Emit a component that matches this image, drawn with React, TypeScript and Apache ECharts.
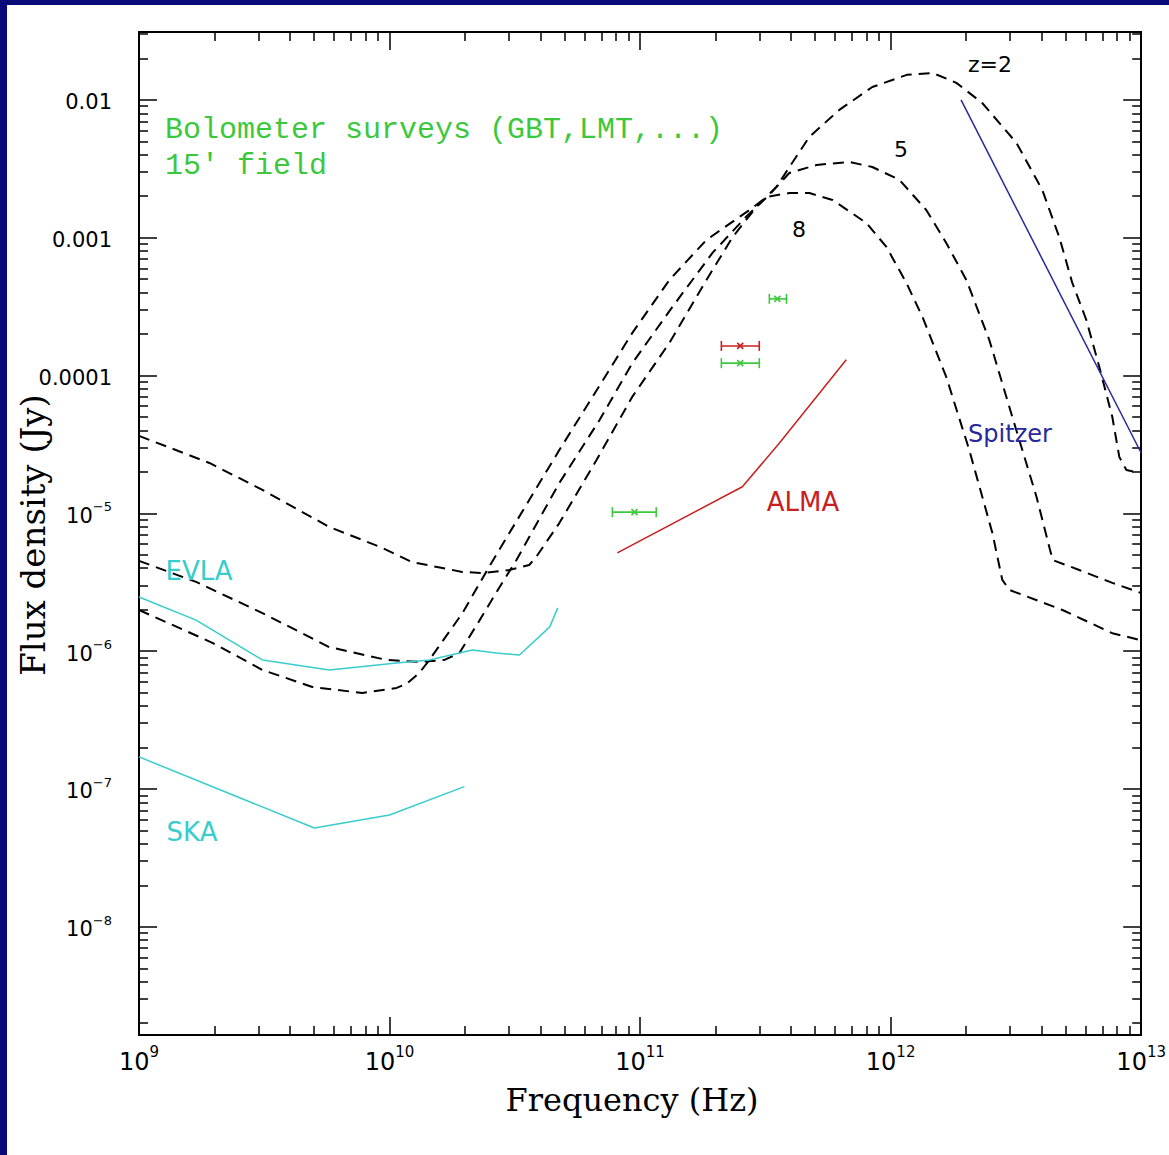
import React, { useEffect, useRef } from "react";
import * as echarts from "echarts";

// ---------- axis ranges ----------
const FREQ_MIN = 1e9;
const FREQ_MAX = 1e13;
const FLUX_MIN = 1.64e-9;
const FLUX_MAX = 0.0311;

// ---------- tick labels ----------
const xMajorExponents = [9, 10, 11, 12, 13];
const yMajorExponents = [-8, -7, -6, -5, -4, -3, -2];
const yDecimalLabels: Record<string, string> = { "-2": "0.01", "-3": "0.001", "-4": "0.0001" };

// ---------- model SEDs (frequency Hz, flux density Jy) ----------
const sedZ2: [number, number][] = [
  [1.0e9, 3.65e-5], [1.91e9, 2.32e-5], [3.11e9, 1.48e-5], [5.75e9, 7.96e-6], [9.38e9, 5.61e-6],
  [1.23e10, 4.43e-6], [1.95e10, 3.76e-6], [2.35e10, 3.69e-6], [3.0e10, 3.88e-6], [3.61e10, 4.22e-6],
  [3.85e10, 4.83e-6], [4.76e10, 8.5e-6], [6.7e10, 2.44e-5], [9.3e10, 7.0e-5], [1.31e11, 1.73e-4],
  [1.84e11, 4.94e-4], [2.34e11, 1.01e-3], [2.92e11, 1.68e-3], [3.5e11, 2.34e-3], [4.74e11, 5.4e-3],
  [6.24e11, 8.46e-3], [8.45e11, 1.24e-2], [1.16e12, 1.52e-2], [1.47e12, 1.57e-2], [1.83e12, 1.33e-2],
  [2.32e12, 9.5e-3], [3.18e12, 4.87e-3], [4.03e12, 2.22e-3], [4.71e12, 1.01e-3], [5.31e12, 4.7e-4],
  [6.04e12, 2.53e-4], [6.81e12, 1.15e-4], [7.67e12, 5.0e-5], [8.18e12, 2.56e-5], [8.73e12, 2.06e-5],
  [1.0e13, 1.96e-5],
];
const sedZ5: [number, number][] = [
  [1.0e9, 4.52e-6], [1.69e9, 3.18e-6], [3.11e9, 1.89e-6], [5.75e9, 1.07e-6], [9.73e9, 8.64e-7],
  [1.315e10, 8.35e-7], [1.656e10, 8.64e-7], [1.9e10, 9.7e-7], [2.29e10, 1.68e-6], [2.75e10, 2.92e-6],
  [3.21e10, 4.59e-6], [4.76e10, 1.66e-5], [6.89e10, 4.76e-5], [9.31e10, 1.23e-4], [1.346e11, 3.15e-4],
  [1.945e11, 7.76e-4], [2.65e11, 1.42e-3], [3.28e11, 2.05e-3], [3.94e11, 2.95e-3], [5.06e11, 3.37e-3],
  [6.84e11, 3.55e-3], [8.45e11, 3.26e-3], [1.084e12, 2.63e-3], [1.387e12, 1.59e-3], [1.667e12, 9.17e-4],
  [2.005e12, 4.94e-4], [2.477e12, 1.81e-4], [3.06e12, 5.0e-5], [3.82e12, 1.32e-5], [4.43e12, 4.59e-6],
  [5.66e12, 3.88e-6], [7.67e12, 3.13e-6], [1.0e13, 2.64e-6],
];
const sedZ8: [number, number][] = [
  [1.0e9, 1.99e-6], [1.963e9, 1.15e-6], [3.11e9, 7.31e-7], [4.92e9, 5.5e-7], [7.8e9, 4.97e-7],
  [1.067e10, 5.41e-7], [1.167e10, 5.78e-7], [1.315e10, 6.95e-7], [1.442e10, 8.64e-7], [1.954e10, 1.89e-6],
  [2.55e10, 4.37e-6], [3.61e10, 1.25e-5], [4.76e10, 2.88e-5], [6.46e10, 7.0e-5], [9.31e10, 2.04e-4],
  [1.309e11, 4.94e-4], [1.84e11, 9.64e-4], [2.735e11, 1.59e-3], [3.2e11, 1.98e-3], [3.945e11, 2.11e-3],
  [4.74e11, 2.11e-3], [5.86e11, 1.88e-3], [8.0e11, 1.28e-3], [9.62e11, 8.57e-4], [1.156e12, 4.7e-4],
  [1.34e12, 2.66e-4], [1.667e12, 9.77e-5], [2.06e12, 2.88e-5], [2.547e12, 7.2e-6], [2.79e12, 3.29e-6],
  [2.98e12, 2.78e-6], [4.85e12, 1.99e-6], [7.67e12, 1.35e-6], [1.0e13, 1.2e-6],
];

// ---------- instrument sensitivities ----------
const evla: [number, number][] = [
  [1.0e9, 2.47e-6], [1.69e9, 1.68e-6], [3.11e9, 8.64e-7], [5.75e9, 7.31e-7], [1.067e10, 8.2e-7],
  [1.442e10, 8.64e-7], [2.14e10, 1.02e-6], [2.67e10, 9.7e-7], [3.3e10, 9.37e-7], [4.36e10, 1.5e-6],
  [4.69e10, 2.06e-6],
];
const ska: [number, number][] = [
  [1.0e9, 1.71e-7], [5.01e9, 5.21e-8], [1.0e10, 6.47e-8], [1.99e10, 1.04e-7],
];
const alma: [number, number][] = [
  [8.11e10, 5.16e-6], [2.56e11, 1.56e-5], [3.6e11, 3.24e-5], [6.65e11, 1.3e-4],
];
const spitzer: [number, number][] = [
  [1.91e12, 1.0e-2], [1.0e13, 2.74e-5],
];

// ---------- bolometer error bars: [centre Hz, flux Jy, low Hz, high Hz] ----------
const greenBars: [number, number, number, number][] = [
  [3.53e11, 3.6e-4, 3.28e11, 3.84e11],
  [2.51e11, 1.23e-4, 2.11e11, 2.99e11],
  [9.5e10, 1.02e-5, 7.75e10, 1.16e11],
];
const redBars: [number, number, number, number][] = [
  [2.51e11, 1.64e-4, 2.11e11, 2.99e11],
];

const lg = Math.log10;
const toLog = (pts: [number, number][]) => pts.map(([f, s]) => [lg(f), lg(s)]);
const barsToLog = (b: [number, number, number, number][]) =>
  b.map(([c, s, lo, hi]) => [lg(c), lg(s), lg(lo), lg(hi)]);

function minorTicks(lo: number, hi: number): number[] {
  const out: number[] = [];
  for (let n = Math.floor(lo) - 1; n <= Math.ceil(hi); n++) {
    for (let k = 2; k <= 9; k++) {
      const v = n + lg(k);
      if (v > lo + 1e-6 && v < hi - 1e-6) out.push(v);
    }
  }
  return out;
}

const BLACK = "#000";
const CYAN = "#38cccc";
const RED = "#c8201e";
const BLUE = "#28289c";
const GREEN = "#3cc83c";
const NAVY = "#0a0a78";

const OX = 7;
const OY = 5;

export default function App() {
  const ref = useRef<HTMLDivElement>(null);

  useEffect(() => {
    if (!ref.current) return;
    const chart = echarts.init(ref.current, undefined, { renderer: "svg" });

    const xLo = lg(FREQ_MIN), xHi = lg(FREQ_MAX);
    const yLo = lg(FLUX_MIN), yHi = lg(FLUX_MAX);
    const xMinor = minorTicks(xLo, xHi);
    const yMinor = minorTicks(yLo, yHi);

    const baseAxis = (min: number, max: number, position: string, ticks: number[], len: number, showLine: boolean) => ({
      type: "value",
      min,
      max,
      position,
      gridIndex: 0,
      axisLine: { show: showLine, onZero: false, lineStyle: { color: BLACK, width: 2 } },
      axisTick: { show: true, inside: true, length: len, customValues: ticks, lineStyle: { color: BLACK, width: 1.5 } },
      axisLabel: { show: false },
      splitLine: { show: false },
    });

    const xLabelAxis: any = baseAxis(xLo, xHi, "bottom", xMajorExponents, 18, true);
    xLabelAxis.axisLabel = {
      show: true,
      customValues: xMajorExponents,
      margin: 9,
      formatter: (v: number) => `{b|10}{s|${Math.round(v)}}`,
      rich: {
        b: { fontFamily: "DejaVu Sans", fontSize: 24, color: BLACK, verticalAlign: "bottom", lineHeight: 30 },
        s: { fontFamily: "DejaVu Sans", fontSize: 15, color: BLACK, verticalAlign: "top", lineHeight: 30 },
      },
    };

    const yLabelAxis: any = baseAxis(yLo, yHi, "left", yMajorExponents, 18, true);
    yLabelAxis.axisLabel = {
      show: true,
      customValues: yMajorExponents,
      margin: 27,
      formatter: (v: number) => {
        const k = String(Math.round(v));
        if (yDecimalLabels[k]) return `{n|${yDecimalLabels[k]}}`;
        return `{n|10}{s|−${Math.abs(Math.round(v))}}`;
      },
      rich: {
        n: { fontFamily: "DejaVu Sans", fontSize: 21, color: BLACK, verticalAlign: "bottom", lineHeight: 26 },
        s: { fontFamily: "DejaVu Sans", fontSize: 13, color: BLACK, verticalAlign: "top", lineHeight: 26 },
      },
    };

    const dashed = (name: string, data: [number, number][]) => ({
      name,
      type: "line",
      data: toLog(data),
      showSymbol: false,
      symbol: "none",
      smooth: false,
      xAxisIndex: 0,
      yAxisIndex: 0,
      lineStyle: { color: BLACK, width: 2, type: [11, 7] },
      z: 3,
    });

    const solid = (name: string, data: [number, number][], color: string) => ({
      name,
      type: "line",
      data: toLog(data),
      showSymbol: false,
      symbol: "none",
      xAxisIndex: 0,
      yAxisIndex: 0,
      lineStyle: { color, width: 1.5 },
      z: 4,
    });

    const errorBars = (name: string, data: [number, number, number, number][], color: string) => ({
      name,
      type: "custom",
      xAxisIndex: 0,
      yAxisIndex: 0,
      data: barsToLog(data),
      encode: { x: 0, y: 1 },
      renderItem: (_params: any, api: any) => {
        const c = api.coord([api.value(0), api.value(1)]);
        const lo = api.coord([api.value(2), api.value(1)]);
        const hi = api.coord([api.value(3), api.value(1)]);
        const st = { stroke: color, lineWidth: 1.6 };
        return {
          type: "group",
          children: [
            { type: "line", shape: { x1: lo[0], y1: c[1], x2: hi[0], y2: c[1] }, style: st },
            { type: "line", shape: { x1: lo[0], y1: c[1] - 5, x2: lo[0], y2: c[1] + 5 }, style: st },
            { type: "line", shape: { x1: hi[0], y1: c[1] - 5, x2: hi[0], y2: c[1] + 5 }, style: st },
            { type: "line", shape: { x1: c[0] - 3, y1: c[1] - 3, x2: c[0] + 3, y2: c[1] + 3 }, style: st },
            { type: "line", shape: { x1: c[0] - 3, y1: c[1] + 3, x2: c[0] + 3, y2: c[1] - 3 }, style: st },
          ],
        };
      },
      z: 5,
    });

    const txt = (text: string, px: number, py: number, font: string, fill: string, align = "center", rotation = 0) => ({
      type: "text",
      x: px - OX,
      y: py - OY,
      rotation,
      z: 10,
      style: { text, font, fill, align, verticalAlign: "middle" },
    });

    chart.setOption({
      animation: false,
      backgroundColor: "#ffffff",
      grid: { left: 132, top: 27, width: 1003, height: 1003, containLabel: false },
      xAxis: [
        xLabelAxis,
        baseAxis(xLo, xHi, "bottom", xMinor, 9, false),
        baseAxis(xLo, xHi, "top", xMajorExponents, 18, true),
        baseAxis(xLo, xHi, "top", xMinor, 9, false),
      ],
      yAxis: [
        yLabelAxis,
        baseAxis(yLo, yHi, "left", yMinor, 9, false),
        baseAxis(yLo, yHi, "right", yMajorExponents, 18, true),
        baseAxis(yLo, yHi, "right", yMinor, 9, false),
      ],
      series: [
        dashed("z=2", sedZ2),
        dashed("z=5", sedZ5),
        dashed("z=8", sedZ8),
        solid("EVLA", evla, CYAN),
        solid("SKA", ska, CYAN),
        solid("ALMA", alma, RED),
        solid("Spitzer", spitzer, BLUE),
        errorBars("Bolometer", greenBars, GREEN),
        errorBars("Bolometer (red)", redBars, RED),
      ],
      graphic: [
        txt("Bolometer surveys (GBT,LMT,...)", 165, 130, '30px "Liberation Mono"', GREEN, "left"),
        txt("15′ field", 165, 166, '30px "Liberation Mono"', GREEN, "left"),
        txt("z=2", 990, 64, '22px "DejaVu Sans"', BLACK),
        txt("5", 901, 149, '22px "DejaVu Sans"', BLACK),
        txt("8", 799, 229, '22px "DejaVu Sans"', BLACK),
        txt("Spitzer", 1010, 434, '24px "DejaVu Sans"', BLUE),
        txt("ALMA", 803, 502, '26px "DejaVu Sans"', RED),
        txt("EVLA", 199, 571, '26px "DejaVu Sans"', CYAN),
        txt("SKA", 192, 832, '26px "DejaVu Sans"', CYAN),
        txt("Frequency (Hz)", 632, 1100, '32px "DejaVu Serif"', BLACK),
        txt("Flux density (Jy)", 33, 535, '34px "DejaVu Serif"', BLACK, "center", Math.PI / 2),
      ],
    });

    return () => chart.dispose();
  }, []);

  return (
    <div style={{ position: "fixed", left: 0, top: 0, width: 1169, height: 1155, background: NAVY, overflow: "hidden" }}>
      <div ref={ref} style={{ position: "absolute", left: OX, top: OY, width: 1169 - OX, height: 1155 - OY, background: "#fff" }} />
    </div>
  );
}
